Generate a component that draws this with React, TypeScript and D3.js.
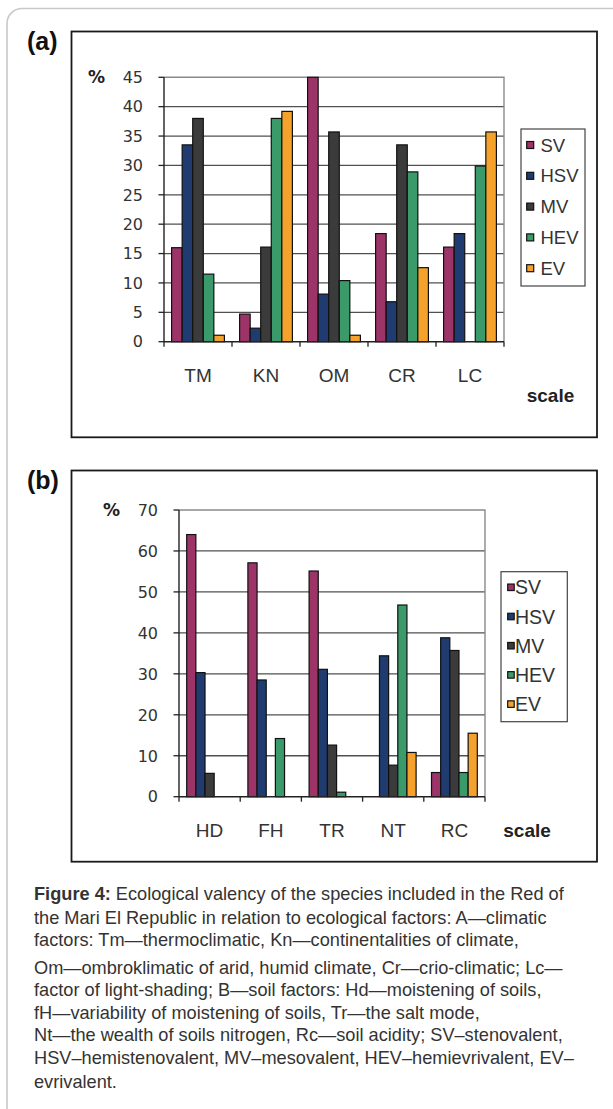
import React from "react";
import * as d3 from "d3";

// ---------- data ----------
const seriesNames = ["SV", "HSV", "MV", "HEV", "EV"];
const seriesColors = ["#9C3468", "#1F3B6F", "#3B3B3B", "#3A9A6A", "#F4A22C"];

const categoriesA = ["TM", "KN", "OM", "CR", "LC"];
const svA = [16, 4.7, 45, 18.4, 16.1];
const hsvA = [33.5, 2.3, 8.1, 6.8, 18.4];
const mvA = [38, 16.1, 35.7, 33.5, 0];
const hevA = [11.5, 38, 10.4, 28.9, 29.9];
const evA = [1.1, 39.2, 1.1, 12.6, 35.7];
const ticksA = [0, 5, 10, 15, 20, 25, 30, 35, 40, 45];

const categoriesB = ["HD", "FH", "TR", "NT", "RC"];
const svB = [64, 57.1, 55.1, 0, 5.9];
const hsvB = [30.3, 28.5, 31.1, 34.4, 38.8];
const mvB = [5.7, 0, 12.6, 7.7, 35.7];
const hevB = [0, 14.2, 1.1, 46.8, 5.9];
const evB = [0, 0, 0, 10.8, 15.5];
const ticksB = [0, 10, 20, 30, 40, 50, 60, 70];

const captionLines = [
  ["Figure 4:", " Ecological valency of the species included in the Red of"],
  ["", "the Mari El Republic in relation to ecological factors: A\u2014climatic"],
  ["", "factors: Tm\u2014thermoclimatic, Kn\u2014continentalities of climate,"],
  ["", "Om\u2014ombroklimatic of arid, humid climate, Cr\u2014crio-climatic; Lc\u2014"],
  ["", "factor of light-shading; B\u2014soil factors: Hd\u2014moistening of soils,"],
  ["", "fH\u2014variability of moistening of soils, Tr\u2014the salt mode,"],
  ["", "Nt\u2014the wealth of soils nitrogen, Rc\u2014soil acidity; SV\u2013stenovalent,"],
  ["", "HSV\u2013hemistenovalent, MV\u2013mesovalent, HEV\u2013hemievrivalent, EV\u2013"],
  ["", "evrivalent."],
];
const captionBaselines = [900, 924, 946, 974, 996, 1019, 1041, 1064, 1088];

const ARIAL = "'Liberation Sans', Arial, sans-serif";
const DEJAVU = "'DejaVu Sans', sans-serif";

type PanelCfg = {
  tag: string;
  tagX: number;
  tagY: number;
  box: [number, number, number, number];
  plot: { left: number; right: number; top: number; bottom: number };
  cats: string[];
  data: number[][];
  ticks: number[];
  outerPad: number;
  tickLabelRight: number;
  pctX: number;
  catBaseline: number;
  catFont: number;
  scaleX: number;
  scaleY: number;
  legend: {
    x: number;
    y: number;
    w: number;
    h: number;
    sw: number;
    swX: number;
    textX: number;
    y0: number;
    step: number;
    font: number;
  };
};

function Panel({ cfg }: { cfg: PanelCfg }) {
  const { plot } = cfg;
  const yMax = cfg.ticks[cfg.ticks.length - 1];
  const y = d3.scaleLinear().domain([0, yMax]).range([plot.bottom, plot.top]);
  const x0 = d3.scaleBand<string>().domain(cfg.cats).range([plot.left, plot.right]).padding(0);
  const x1 = d3
    .scaleBand<string>()
    .domain(seriesNames)
    .range([0, x0.bandwidth()])
    .paddingInner(0)
    .paddingOuter(cfg.outerPad);
  const boundaries = cfg.cats.map((c) => x0(c) as number).concat([plot.right]);
  const L = cfg.legend;
  return (
    <g>
      <text x={cfg.tagX} y={cfg.tagY} fontFamily={ARIAL} fontWeight="bold" fontSize={25} fill="#111">
        {cfg.tag}
      </text>
      <rect
        x={cfg.box[0]}
        y={cfg.box[1]}
        width={cfg.box[2]}
        height={cfg.box[3]}
        fill="#fff"
        stroke="#1a1a1a"
        strokeWidth={1.8}
      />
      {cfg.ticks
        .filter((t) => t > 0 && t < yMax)
        .map((t) => (
          <line key={"g" + t} x1={plot.left} x2={plot.right} y1={y(t)} y2={y(t)} stroke="#505050" strokeWidth={1.3} />
        ))}
      <path
        d={`M${plot.left},${plot.top}H${plot.right}V${plot.bottom}`}
        fill="none"
        stroke="#8a8a8a"
        strokeWidth={1.4}
      />
      {cfg.cats.map((c, ci) => (
        <g key={c} transform={`translate(${x0(c)},0)`}>
          {seriesNames.map((s, si) => {
            const v = cfg.data[si][ci];
            if (!v) return null;
            return (
              <rect
                key={s}
                x={x1(s)}
                y={y(v)}
                width={x1.bandwidth()}
                height={y(0) - y(v)}
                fill={seriesColors[si]}
                stroke="#111"
                strokeWidth={1.2}
              />
            );
          })}
        </g>
      ))}
      <line x1={plot.left} x2={plot.left} y1={plot.top} y2={plot.bottom} stroke="#222" strokeWidth={1.4} />
      <line x1={plot.left} x2={plot.right} y1={plot.bottom} y2={plot.bottom} stroke="#222" strokeWidth={1.4} />
      {cfg.ticks.map((t) => (
        <g key={"t" + t}>
          <line x1={plot.left - 5.5} x2={plot.left} y1={y(t)} y2={y(t)} stroke="#222" strokeWidth={1.3} />
          <text
            x={cfg.tickLabelRight}
            y={y(t)}
            dy="0.36em"
            textAnchor="end"
            fontFamily={DEJAVU}
            fontSize={16}
            fill="#333"
          >
            {t}
          </text>
        </g>
      ))}
      <text
        x={cfg.pctX}
        y={y(yMax)}
        dy="0.36em"
        fontFamily={DEJAVU}
        fontWeight="bold"
        fontSize={17}
        fill="#222"
      >
        %
      </text>
      {boundaries.map((b, i) => (
        <line key={"xb" + i} x1={b} x2={b} y1={plot.bottom} y2={plot.bottom + 5} stroke="#222" strokeWidth={1.3} />
      ))}
      {cfg.cats.map((c) => (
        <text
          key={"cl" + c}
          x={(x0(c) as number) + x0.bandwidth() / 2}
          y={cfg.catBaseline}
          textAnchor="middle"
          fontFamily={ARIAL}
          fontSize={cfg.catFont}
          fill="#333"
        >
          {c}
        </text>
      ))}
      <text x={cfg.scaleX} y={cfg.scaleY} fontFamily={ARIAL} fontWeight="bold" fontSize={19} fill="#222">
        scale
      </text>
      <rect x={L.x} y={L.y} width={L.w} height={L.h} fill="#fff" stroke="#444" strokeWidth={1.2} />
      {seriesNames.map((s, si) => {
        const cy = L.y0 + si * L.step;
        return (
          <g key={"lg" + s}>
            <rect
              x={L.swX}
              y={cy - L.sw / 2}
              width={L.sw}
              height={L.sw}
              fill={seriesColors[si]}
              stroke="#111"
              strokeWidth={1.2}
            />
            <text x={L.textX} y={cy} dy="0.36em" fontFamily={ARIAL} fontSize={L.font} fill="#333">
              {s}
            </text>
          </g>
        );
      })}
    </g>
  );
}

const panelA: PanelCfg = {
  tag: "(a)",
  tagX: 27,
  tagY: 50,
  box: [71.5, 31.5, 525.5, 405.8],
  plot: { left: 164, right: 504, top: 77.3, bottom: 341.7 },
  cats: categoriesA,
  data: [svA, hsvA, mvA, hevA, evA],
  ticks: ticksA,
  outerPad: 0.72,
  tickLabelRight: 143,
  pctX: 88,
  catBaseline: 382.3,
  catFont: 19,
  scaleX: 526.7,
  scaleY: 401.7,
  legend: { x: 521, y: 129, w: 64, h: 157, sw: 7, swX: 526.7, textX: 540.5, y0: 145, step: 30.8, font: 18.5 },
};

const panelB: PanelCfg = {
  tag: "(b)",
  tagX: 27,
  tagY: 489,
  box: [71.5, 470.5, 525.5, 391.2],
  plot: { left: 179, right: 485, top: 510, bottom: 796.7 },
  cats: categoriesB,
  data: [svB, hsvB, mvB, hevB, evB],
  ticks: ticksB,
  outerPad: 0.84,
  tickLabelRight: 158,
  pctX: 103,
  catBaseline: 836.7,
  catFont: 19,
  scaleX: 503.3,
  scaleY: 836.7,
  legend: { x: 501, y: 571.7, w: 66.3, h: 150, sw: 6.5, swX: 507.7, textX: 515, y0: 587.3, step: 29.2, font: 19.5 },
};

export default function App() {
  return (
    <svg
      width={613}
      height={1109}
      viewBox="0 0 613 1109"
      style={{ position: "absolute", left: 0, top: 0, display: "block", background: "#fff" }}
    >
      <rect x={0} y={0} width={613} height={1109} fill="#fff" />
      <rect x={7} y={8.5} width={720} height={1300} rx={15} ry={15} fill="#fff" stroke="#c8c8c8" strokeWidth={1.6} />
      <Panel cfg={panelA} />
      <Panel cfg={panelB} />
      {captionLines.map((ln, i) => (
        <text key={"cap" + i} x={34} y={captionBaselines[i]} fontFamily={ARIAL} fontSize={18.2} fill="#333">
          {ln[0] ? <tspan fontWeight="bold">{ln[0]}</tspan> : null}
          <tspan>{ln[1]}</tspan>
        </text>
      ))}
    </svg>
  );
}
